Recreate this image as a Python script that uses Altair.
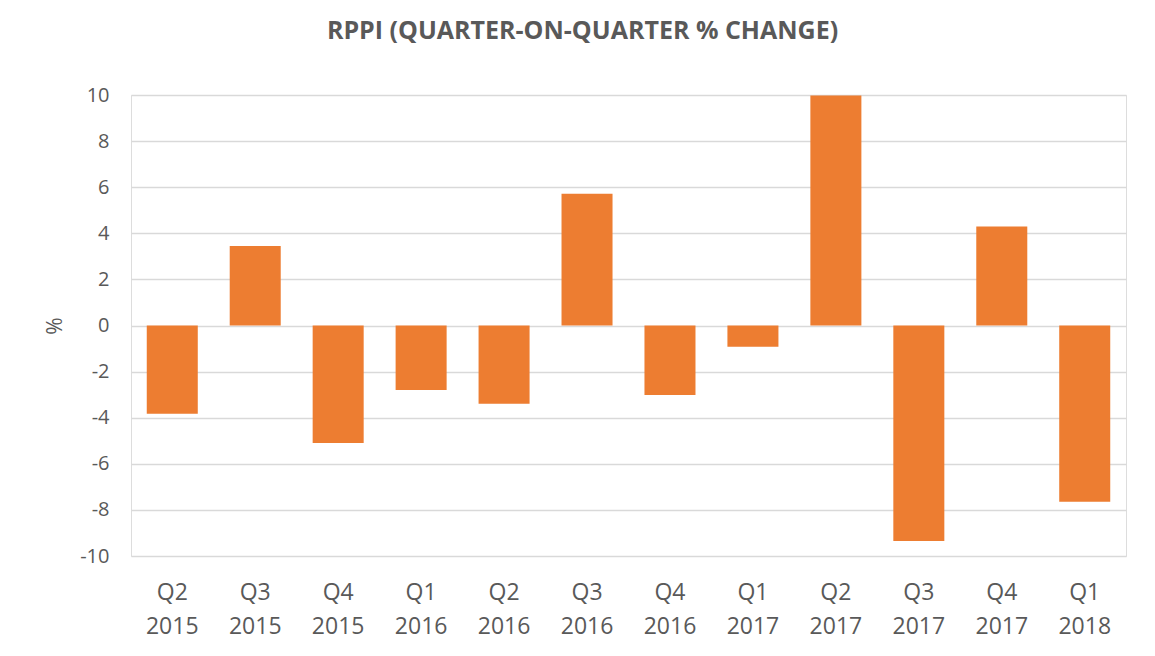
import altair as alt
import pandas as pd

quarters = ["Q2 2015", "Q3 2015", "Q4 2015", "Q1 2016", "Q2 2016", "Q3 2016",
            "Q4 2016", "Q1 2017", "Q2 2017", "Q3 2017", "Q4 2017", "Q1 2018"]
changes = [-3.83, 3.45, -5.1, -2.8, -3.4, 5.72, -3.02, -0.92, 9.98, -9.35, 4.3, -7.65]

df = pd.DataFrame({"quarter": quarters, "change": changes})

grey = "#595959"

chart = alt.Chart(df).mark_bar(color="#ED7D31").encode(
    x=alt.X("quarter:N", sort=quarters, title=None,
            scale=alt.Scale(paddingInner=0.385, paddingOuter=0.19),
            axis=alt.Axis(labelExpr="split(datum.label, ' ')", labelAngle=0,
                          labelFontSize=23, labelColor=grey, labelFont="Open Sans",
                          labelPadding=25, labelLineHeight=34, ticks=False,
                          domain=False, grid=False, labelBaseline="top")),
    y=alt.Y("change:Q", title="%",
            scale=alt.Scale(domain=[-10, 10], nice=False),
            axis=alt.Axis(values=list(range(-10, 11, 2)), labelFontSize=20,
                          labelExpr="replace(datum.label, '\u2212', '-')",
                          labelColor=grey, labelFont="Open Sans", labelPadding=22,
                          ticks=False, domain=False, gridColor="#d9d9d9",
                          gridWidth=1.3, titleFontSize=21, titleColor=grey,
                          titleFont="Open Sans", titleFontWeight="normal",
                          titlePadding=14)),
).properties(
    width=995,
    height=461,
    title=alt.TitleParams("RPPI (QUARTER-ON-QUARTER % CHANGE)", fontSize=25,
                          font="Open Sans", fontWeight="bold", color=grey,
                          anchor="middle", dx=-46, offset=41),
    autosize=alt.AutoSizeParams(type="none"),
    padding={"left": 123, "top": 87, "right": 21, "bottom": 90},
).configure_view(stroke=None).configure(background="white")

chart.save("out.html", embed_options={"renderer": "svg", "actions": False})
